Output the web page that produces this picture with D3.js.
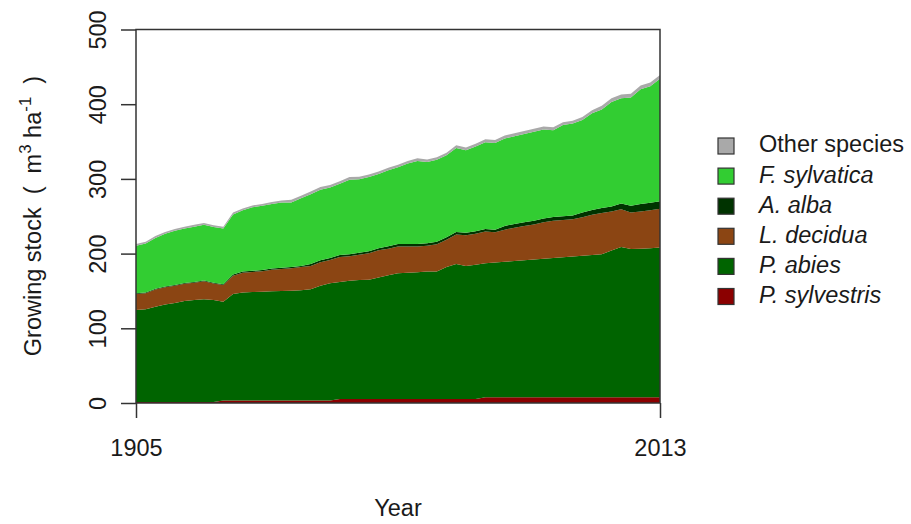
<!DOCTYPE html>
<html>
<head>
<meta charset="utf-8">
<script src="https://cdn.jsdelivr.net/npm/d3@7"></script>
<style>
  html, body { margin: 0; padding: 0; background: #ffffff; }
  svg { display: block; font-family: "Liberation Sans", Arial, Helvetica, sans-serif; }
</style>
</head>
<body>
<svg id="chart" width="911" height="524"></svg>
<script>
// ---- data (m3 ha-1), every 2 years ----
const years = [1905,1907,1909,1911,1913,1915,1917,1919,1921,1923,
  1925,1927,1929,1931,1933,1935,1937,1939,1941,1943,1945,
  1947,1949,1951,1953,1955,1957,1959,1961,1963,1965,1967,1969,1971,1973,1975,
  1977,1979,1981,1983,1985,1987,1989,1991,1993,1995,1997,1999,2001,2003,2005,2007,2009,2011,2013];

const pSylvestris = [1.5,1.5,1.5,1.5,1.5,1.5,1.5,1.5,1.5,
  3.3,3.3,3.3,3.3,3.3,3.3,3.3,3.3,3.3,3.3,3.3,3.3,
  5.3,5.3,5.3,5.3,5.3,5.3,5.3,5.3,5.3,5.3,5.3,5.3,5.3,5.3,5.3,
  7.8,7.8,7.8,7.8,7.8,7.8,7.8,7.8,7.8,7.8,7.8,7.8,7.8,7.8,7.8,7.8,7.8,7.8,7.8];

const pAbies = [123.1,124,127.5,130.5,132.5,135,136.5,137.5,136.5,132.4,
  142.7,144.5,145.2,145.7,146.2,146.7,147.1,147.7,149,153.7,157,
  156.7,158.2,159.4,159.7,162.7,165.7,168.4,169.2,169.7,170.6,170.7,176.7,180.7,178.2,179.7,
  179.2,180.2,181.2,182.2,183.2,184.2,185.2,186.2,187.2,188.2,189.2,190.2,191.2,196.2,201.2,198.2,198.7,199.2,200.2];

const lDecidua = [21.4,21.5,23,23,23,23,23,24,22,22.3,
  24.5,26.7,27,27.5,29,29.5,30.1,31,31.2,31.5,31.2,
  33.5,33,33.8,35.5,36.5,35.5,35.8,35,34.5,34.6,36.5,36.5,39.5,41,41.5,
  42.5,40.5,43,44.7,46,47,49,50,50,50,51.5,54,55.5,52.5,50.5,49,50,51,52];

const aAlba = [1,1,1,1,1,1,1,1,1,1,
  1.5,1.5,1.5,1.5,1.5,1.5,1.5,1.5,2.5,2.5,2.5,
  2.5,2.5,2.5,2.5,2.5,3.5,3.5,3.5,3.5,3.5,3.5,3.5,3.5,3.5,3.5,
  3.5,3.5,5,5,5,5,5,5,5,5,6.5,6.5,6.5,6.5,7.5,9,10,10,10];

const fSylvatica = [63.5,65.5,68,70.5,72.5,73,74,74.5,74.5,74.5,
  80.5,82,85,86,86.5,87.5,86.5,90.5,93.5,94.5,94.5,
  95.5,100,98.5,99.5,99.5,101.5,102.5,107.5,111,108.5,109.5,109.5,112.5,110.5,113.5,
  116,116,117,117.3,118,119,119,116,122,123,124,129.5,132,140,141,145,153.5,156,164];

const otherSpecies = [2.5,2.5,2.5,2.5,2.5,2.5,2.5,2.5,2.5,2.5,
  2.5,2.5,2.5,2.5,2.5,2.5,3.5,3.5,3.5,3.5,3.5,
  3.5,3.5,3.5,3.5,3.5,3.5,3.5,3.5,3.5,3.5,3.5,3.5,3.5,3.5,3.5,
  4,4,4,4,4,4,4,4,4,4,4,4,5,5,5,5,5,5,5];

// stacking order bottom -> top
const seriesKeys  = ["sylvestris","abies","decidua","alba","fagus","other"];
const seriesData  = [pSylvestris, pAbies, lDecidua, aAlba, fSylvatica, otherSpecies];
const seriesColor = ["#8b0000","#006400","#8b4513","#003300","#32cd32","#a9a9a9"];

// legend (top -> bottom)
const legendLabels = ["Other species","F. sylvatica","A. alba","L. decidua","P. abies","P. sylvestris"];
const legendItalic = [false,true,true,true,true,true];
const legendColors = ["#a9a9a9","#32cd32","#003300","#8b4513","#006400","#8b0000"];

const xTicks = [1905, 2013];
const yTicks = [0,100,200,300,400,500];

// ---- drawing ----
const svg = d3.select("#chart");
const FS = 23.5;
const pLeft = 136, pRight = 660, pTop = 29.5, pBottom = 403;

const x = d3.scaleLinear().domain([1905, 2013]).range([pLeft, pRight]);
const y = d3.scaleLinear().domain([0, 500]).range([pBottom, pTop]);

const table = years.map((yr, i) => {
  const row = { year: yr };
  seriesKeys.forEach((k, j) => row[k] = seriesData[j][i]);
  return row;
});

const stacked = d3.stack().keys(seriesKeys)(table);

const area = d3.area()
  .x(d => x(d.data.year))
  .y0(d => y(d[0]))
  .y1(d => y(d[1]));

svg.append("g").selectAll("path")
  .data(stacked)
  .join("path")
  .attr("d", area)
  .attr("fill", (d, i) => seriesColor[i])
  .attr("stroke", "none");

// box
svg.append("rect")
  .attr("x", pLeft).attr("y", pTop)
  .attr("width", pRight - pLeft).attr("height", pBottom - pTop)
  .attr("fill", "none").attr("stroke", "#333").attr("stroke-width", 1.5);

// x axis
const xAxis = svg.append("g")
  .attr("transform", `translate(0,${pBottom})`)
  .call(d3.axisBottom(x).tickValues(xTicks).tickFormat(d3.format("d")).tickSize(15).tickSizeOuter(0).tickPadding(21));
xAxis.select(".domain").remove();
xAxis.selectAll(".tick line").attr("stroke", "#333").attr("stroke-width", 1.5);
xAxis.selectAll(".tick text").attr("font-size", FS).attr("fill", "#1a1a1a")
  .attr("font-family", '"Liberation Sans", Arial, sans-serif');

// y axis
const yAxis = svg.append("g")
  .attr("transform", `translate(${pLeft},0)`)
  .call(d3.axisLeft(y).tickValues(yTicks).tickSize(15).tickSizeOuter(0).tickFormat(d3.format("d")));
yAxis.select(".domain").remove();
yAxis.selectAll(".tick line").attr("stroke", "#333").attr("stroke-width", 1.5);
yAxis.selectAll(".tick text")
  .attr("font-size", FS).attr("fill", "#1a1a1a")
  .attr("font-family", '"Liberation Sans", Arial, sans-serif')
  .attr("x", null).attr("dy", null)
  .attr("text-anchor", "middle")
  .attr("transform", `translate(${106 - pLeft},0) rotate(-90)`);

// axis titles
svg.append("text")
  .attr("x", 398).attr("y", 516)
  .attr("text-anchor", "middle")
  .attr("font-size", FS).attr("fill", "#1a1a1a")
  .text("Year");

const yTitle = svg.append("text")
  .attr("transform", "translate(41,216) rotate(-90)")
  .attr("text-anchor", "middle")
  .attr("font-size", FS).attr("fill", "#1a1a1a")
  .attr("xml:space", "preserve")
  .style("white-space", "pre");
yTitle.append("tspan").text("Growing stock  (  m");
yTitle.append("tspan").attr("font-size", FS * 0.72).attr("dy", -10).text("3");
yTitle.append("tspan").attr("dy", 10).text(" ha");
yTitle.append("tspan").attr("font-size", FS * 0.72).attr("dy", -10).text("-1");
yTitle.append("tspan").attr("dy", 10).text("  )");

// legend
const lg = svg.append("g");
legendLabels.forEach((lab, i) => {
  const cy = 144 + i * 30.1;
  lg.append("rect")
    .attr("x", 718).attr("y", cy + 2 - 8)
    .attr("width", 16).attr("height", 16)
    .attr("fill", legendColors[i]).attr("stroke", "#333").attr("stroke-width", 1.2);
  lg.append("text")
    .attr("x", 759).attr("y", cy + 8.4)
    .attr("font-size", FS).attr("fill", "#1a1a1a")
    .attr("font-style", legendItalic[i] ? "italic" : "normal")
    .text(lab);
});
</script>
</body>
</html>
